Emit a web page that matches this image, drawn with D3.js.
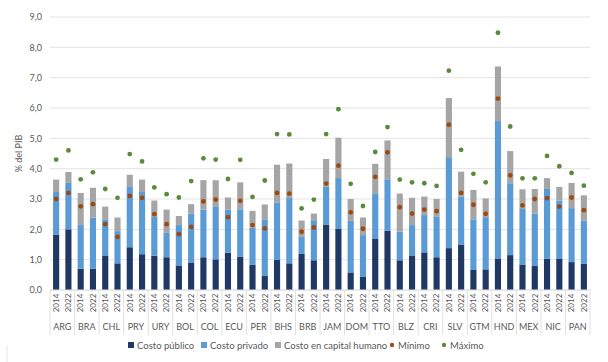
<!DOCTYPE html>
<html>
<head>
<meta charset="utf-8">
<script src="https://cdn.jsdelivr.net/npm/d3@7"></script>
<style>
  body { margin: 0; background: #fff; }
  svg text { font-family: Lato, "Open Sans", sans-serif; fill: #595959; }
</style>
</head>
<body>
<div id="chart"></div>
<script>
// data (% del PIB)
var countries = ["ARG","BRA","CHL","PRY","URY","BOL","COL","ECU","PER","BHS","BRB",
                 "JAM","DOM","TTO","BLZ","CRI","SLV","GTM","HND","MEX","NIC","PAN"];
var years = ["2014", "2022"];

// one value per bar, order: country by country, 2014 then 2022
var costoPublico = [1.83,2.00, 0.70,0.70, 1.14,0.88, 1.41,1.18, 1.13,1.08, 0.81,0.89,
                    1.08,1.01, 1.23,1.09, 0.84,0.46, 0.99,0.88, 1.19,0.98, 2.16,2.01,
                    0.58,0.43, 1.70,1.95, 0.98,1.14, 1.24,1.08, 1.38,1.50, 0.66,0.68,
                    1.04,1.15, 0.84,0.79, 1.03,1.04, 0.92,0.86];
var costoPrivado = [1.40,1.53, 1.44,1.69, 1.19,1.06, 2.01,2.05, 1.28,0.82, 1.33,1.63,
                    1.57,1.75, 1.42,1.57, 1.22,1.87, 1.90,2.15, 0.56,1.32, 1.24,1.68,
                    1.70,1.38, 1.49,1.70, 0.94,1.00, 1.23,1.35, 3.00,1.57, 1.67,1.72,
                    4.53,2.37, 1.83,1.73, 2.30,1.91, 1.78,1.42];
var costoCapital = [0.41,0.36, 1.06,0.98, 0.42,0.45, 0.38,0.41, 0.54,0.75, 0.30,0.31,
                    0.97,0.86, 0.40,0.89, 0.55,0.49, 1.24,1.14, 0.54,0.22, 0.92,1.33,
                    0.72,0.58, 0.97,1.28, 1.26,0.90, 0.61,0.57, 1.95,0.83, 0.97,0.62,
                    1.80,1.06, 0.65,0.81, 0.36,0.45, 0.83,0.84];
var minimo = [3.00,3.20, 2.76,2.83, 2.17,1.75, 3.10,3.04, 2.50,2.17, 1.84,2.08,
              2.92,2.98, 2.40,2.94, 2.14,2.03, 3.20,3.18, 1.92,2.06, 3.51,4.10,
              2.56,2.02, 3.73,4.54, 2.73,2.52, 2.65,2.60, 5.45,3.20, 2.81,2.51,
              6.31,3.78, 2.79,3.00, 3.03,2.75, 3.05,2.63];
var maximo = [4.30,4.60, 3.65,3.88, 3.33,3.04, 4.48,4.24, 3.38,3.16, 3.05,3.59,
              4.34,4.30, 3.66,4.29, 3.07,3.61, 5.14,5.13, 2.69,2.98, 5.14,5.96,
              3.50,2.77, 4.55,5.37, 3.64,3.55, 3.52,3.43, 7.23,4.62, 3.83,3.55,
              8.48,5.39, 3.68,3.68, 4.42,4.08, 3.86,3.44];
var yTicks = [0,1,2,3,4,5,6,7,8,9];

var series = [
  {key: "publico", label: "Costo público", color: "#203864"},
  {key: "privado", label: "Costo privado", color: "#5b9bd5"},
  {key: "capital", label: "Costo en capital humano", color: "#a5a5a5"}
];

var rows = [];
countries.forEach(function(c, i) {
  years.forEach(function(y, j) {
    var k = i * 2 + j;
    rows.push({country: c, year: y, publico: costoPublico[k], privado: costoPrivado[k],
               capital: costoCapital[k], min: minimo[k], max: maximo[k]});
  });
});

var width = 608, height = 362;
var plotLeft = 50, plotRight = 590, plotTop = 17, plotBottom = 290;

var svg = d3.select("#chart").append("svg")
    .attr("width", width).attr("height", height);

var x0 = d3.scaleBand().domain(countries).range([plotLeft, plotRight]).padding(0);
var x1 = d3.scaleBand().domain(years).range([0, x0.bandwidth()])
    .paddingInner(0.5).paddingOuter(0.25);
var y = d3.scaleLinear().domain([0, 9]).range([plotBottom, plotTop]);

// gridlines
svg.append("g").selectAll("line")
  .data(yTicks)
  .enter().append("line")
    .attr("x1", plotLeft).attr("x2", plotRight)
    .attr("y1", function(d) { return y(d); })
    .attr("y2", function(d) { return y(d); })
    .attr("stroke", "#e3e3e3").attr("stroke-width", 1);

// y axis labels
var yAxis = d3.axisLeft(y).tickValues(yTicks).tickSize(0).tickPadding(8)
    .tickFormat(function(d) { return d3.format(".1f")(d).replace(".", ","); });
svg.append("g").attr("transform", "translate(" + plotLeft + ",0)").call(yAxis)
  .call(function(g) { g.select(".domain").remove(); })
  .selectAll("text").attr("font-size", 9).style("font-family", "Lato, sans-serif")
  .attr("fill", "#595959");

svg.append("text")
    .attr("transform", "translate(22," + y(4.5) + ") rotate(-90)")
    .attr("text-anchor", "middle").attr("font-size", 9)
    .text("% del PIB");

// stacked bars
var stack = d3.stack().keys(series.map(function(s) { return s.key; }));
var layers = stack(rows);

svg.append("g").selectAll("g")
  .data(layers)
  .enter().append("g")
    .attr("fill", function(d, i) { return series[i].color; })
  .selectAll("rect")
  .data(function(d) { return d; })
  .enter().append("rect")
    .attr("x", function(d) { return x0(d.data.country) + x1(d.data.year); })
    .attr("width", x1.bandwidth())
    .attr("y", function(d) { return y(d[1]); })
    .attr("height", function(d) { return y(d[0]) - y(d[1]); });

// markers
function dots(field, color) {
  svg.append("g").selectAll("circle")
    .data(rows)
    .enter().append("circle")
      .attr("cx", function(d) { return x0(d.country) + x1(d.year) + x1.bandwidth() / 2; })
      .attr("cy", function(d) { return y(d[field]); })
      .attr("r", 2.4)
      .attr("fill", color);
}
dots("min", "#9c4a12");
dots("max", "#5b8a3c");

// category axis: separators, years, countries
var axisBottom = 335;
var cat = svg.append("g");
cat.selectAll("line.sep")
  .data(countries.concat(["_end"]))
  .enter().append("line").attr("class", "sep")
    .attr("x1", function(d, i) { return plotLeft + i * x0.step(); })
    .attr("x2", function(d, i) { return plotLeft + i * x0.step(); })
    .attr("y1", plotBottom).attr("y2", axisBottom)
    .attr("stroke", "#e0e0e0");
cat.append("line")
    .attr("x1", plotLeft).attr("x2", plotRight).attr("y1", plotBottom).attr("y2", plotBottom)
    .attr("stroke", "#e0e0e0");

cat.selectAll("text.year")
  .data(rows)
  .enter().append("text").attr("class", "year")
    .attr("transform", function(d) {
      var cx = x0(d.country) + x1(d.year) + x1.bandwidth() / 2;
      return "translate(" + (cx + 2.8) + ",303) rotate(-90)";
    })
    .attr("text-anchor", "middle").attr("font-size", 8)
    .text(function(d) { return d.year; });

cat.selectAll("text.country")
  .data(countries)
  .enter().append("text").attr("class", "country")
    .attr("x", function(d) { return x0(d) + x0.bandwidth() / 2; })
    .attr("y", 330)
    .attr("text-anchor", "middle").attr("font-size", 9)
    .text(function(d) { return d; });

// legend
var legendItems = [
  {label: "Costo público", color: "#203864", type: "rect", x: 128},
  {label: "Costo privado", color: "#5b9bd5", type: "rect", x: 201},
  {label: "Costo en capital humano", color: "#a5a5a5", type: "rect", x: 275},
  {label: "Mínimo", color: "#9c4a12", type: "dot", x: 389},
  {label: "Máximo", color: "#5b8a3c", type: "dot", x: 441}
];
var lg = svg.append("g").attr("transform", "translate(0,345)");
legendItems.forEach(function(it) {
  if (it.type == "rect") {
    lg.append("rect").attr("x", it.x).attr("y", -3).attr("width", 6).attr("height", 6)
      .attr("fill", it.color);
  } else {
    lg.append("circle").attr("cx", it.x + 3).attr("cy", 0).attr("r", 2.2)
      .attr("fill", it.color);
  }
  lg.append("text").attr("x", it.x + 9).attr("y", 3.5)
    .attr("font-size", 9.5).text(it.label);
});

// faint mark at bottom-left corner
svg.append("line").attr("x1", 7).attr("x2", 7).attr("y1", 345).attr("y2", 362)
  .attr("stroke", "#e6e6e6");
</script>
</body>
</html>
